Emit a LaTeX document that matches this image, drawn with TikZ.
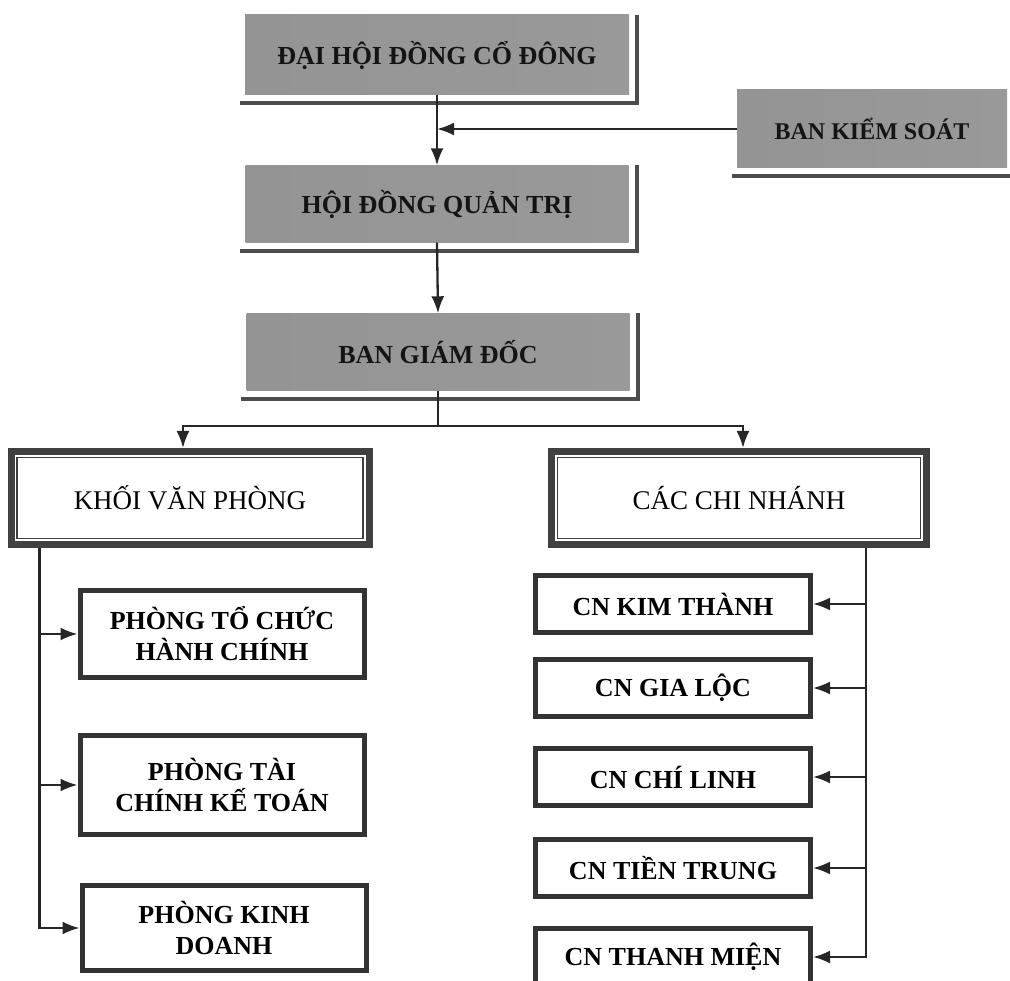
\documentclass[tikz,border=0pt]{standalone}
\usepackage{fontspec}
\setmainfont{Liberation Serif}
\usetikzlibrary{arrows.meta, positioning, calc}

\begin{document}
\begin{tikzpicture}[x=1pt, y=-1pt,
    toptier/.style={rectangle, inner sep=0pt, left color=black!42, middle color=black!62, right color=black!40, text=black!92, font=\fontsize{26}{30}\selectfont\bfseries},
    shadowline/.style={line width=4pt, draw=black!70},
    blockbox/.style={rectangle, draw=black!75, line width=7pt, fill=white, font=\fontsize{27}{31}\selectfont, minimum width=358, minimum height=93},
    deptbox/.style={rectangle, draw=black!80, line width=5pt, fill=white, align=center, font=\fontsize{26}{31}\selectfont\bfseries, minimum width=284},
    arr/.style={-{Latex[length=17pt,width=13pt]}, line width=2.3pt, black!85}]
        \useasboundingbox (0,0) rectangle (1010,981);

        % Top tier
        \node[toptier, minimum width=384, minimum height=80] (dhdcd) at (437,55) {ĐẠI HỘI ĐỒNG CỔ ĐÔNG};
        \node[toptier, minimum width=270, minimum height=78, font=\fontsize{24}{28}\selectfont\bfseries] (bks) at (872,129) {BAN KIỂM SOÁT};
        \node[toptier, minimum width=383, minimum height=77] (hdqt) at (437,204) {HỘI ĐỒNG QUẢN TRỊ};
        \node[toptier, minimum width=383, minimum height=77] (bgd) at (438,352) {BAN GIÁM ĐỐC};
        \foreach \n in {dhdcd,bks,hdqt,bgd} {
            \draw[shadowline] ([shift={(-5,8)}]\n.south west) -- ([shift={(8,8)}]\n.south east) -- ([shift={(8,0)}]\n.north east);
        }

        % Blocks
        \node[blockbox] (kvp) at (190,498) {KHỐI VĂN PHÒNG};
        \node[blockbox, minimum width=375] (ccn) at (739,498) {CÁC CHI NHÁNH};
        \foreach \n in {kvp,ccn} {
            \draw[line width=1.5pt, black!75] ([shift={(9.5,9.5)}]\n.north west) rectangle ([shift={(-9.5,-9.5)}]\n.south east);
        }

        % Offices
        \node[deptbox, minimum height=87] (ptchc) at (222,634) {PHÒNG TỔ CHỨC\\HÀNH CHÍNH};
        \node[deptbox, minimum height=99] (ptckt) at (222,785) {PHÒNG TÀI\\CHÍNH KẾ TOÁN};
        \node[deptbox, minimum height=85] (pkd) at (224,928) {PHÒNG KINH\\DOANH};

        % Branches
        \foreach \y/\nm/\txt in {604/kt/CN KIM THÀNH, 688/gl/CN GIA LỘC, 777/cl/CN CHÍ LINH, 868/tt/CN TIỀN TRUNG, 957/tm/CN THANH MIỆN} {
            \node[deptbox, minimum width=275, minimum height=57] (\nm) at (673,\y) {\txt};
        }

        % Arrows
        \draw[arr] (dhdcd.south) -- (hdqt.north);
        \draw[arr] (bks.west) -- (bks.west -| dhdcd.south);
        \draw[arr] (hdqt.south) -- (bgd.north);
        \draw[line width=2.3pt, black!85] (bgd.south) -- ++(0,35) coordinate (split);
        \draw[arr] (split) -| ([xshift=-7]kvp.north);
        \draw[arr] (split) -| ([xshift=4]ccn.north);
        \coordinate (lbus) at ([xshift=32]kvp.south west);
        \coordinate (rbus) at ([xshift=-64]ccn.south east);
        \foreach \b in {ptchc,ptckt,pkd} {
            \draw[arr] (lbus) |- (\b.west);
        }
        \foreach \b in {kt,gl,cl,tt,tm} {
            \draw[arr] (rbus) |- (\b.east);
        }
    \end{tikzpicture}
\end{document}
